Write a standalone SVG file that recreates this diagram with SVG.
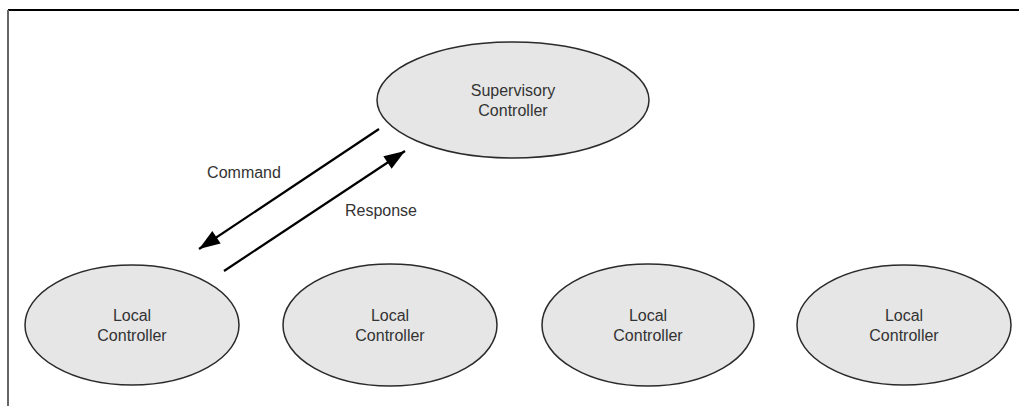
<svg xmlns="http://www.w3.org/2000/svg" width="1019" height="406" viewBox="0 0 1019 406">
  <style>
    .node ellipse { fill: #e6e6e6; stroke: #2a2a2a; stroke-width: 1.5; }
    text { font-family: "Liberation Sans", Arial, sans-serif; font-size: 16px; fill: #333; text-anchor: middle; }
    .conn line { stroke: #000; stroke-width: 2.2; }
  </style>
  <defs>
    <!-- filled triangular arrowhead, tip at the line end -->
    <marker id="arrow" viewBox="-22 -8 24 16" refX="0" refY="0" markerWidth="24" markerHeight="16" markerUnits="userSpaceOnUse" orient="auto">
      <path d="M0,0 L-21,-7.5 L-21,7.5 Z" fill="#000"/>
    </marker>
  </defs>
  <rect width="1019" height="406" fill="#fff"/>
  <!-- frame -->
  <line x1="8" y1="10" x2="1019" y2="10" stroke="#000" stroke-width="2"/>
  <line x1="8" y1="10" x2="8" y2="406" stroke="#666" stroke-width="2"/>

  <g id="supervisory" class="node">
    <ellipse cx="513" cy="100" rx="136" ry="58"/>
    <text x="513" y="96">Supervisory</text>
    <text x="513" y="116">Controller</text>
  </g>
  <g id="local1" class="node">
    <ellipse cx="132" cy="325" rx="107" ry="60"/>
    <text x="132" y="321">Local</text>
    <text x="132" y="341">Controller</text>
  </g>
  <g id="local2" class="node">
    <ellipse cx="390" cy="325" rx="107" ry="61"/>
    <text x="390" y="321">Local</text>
    <text x="390" y="341">Controller</text>
  </g>
  <g id="local3" class="node">
    <ellipse cx="648" cy="325" rx="106" ry="61"/>
    <text x="648" y="321">Local</text>
    <text x="648" y="341">Controller</text>
  </g>
  <g id="local4" class="node">
    <ellipse cx="904" cy="325" rx="107" ry="60"/>
    <text x="904" y="321">Local</text>
    <text x="904" y="341">Controller</text>
  </g>

  <g id="connectors" class="conn">
    <line x1="379" y1="129" x2="199" y2="249" marker-end="url(#arrow)"/>
    <line x1="224" y1="271" x2="405" y2="151" marker-end="url(#arrow)"/>
    <text x="244" y="178">Command</text>
    <text x="381" y="216">Response</text>
  </g>
</svg>
